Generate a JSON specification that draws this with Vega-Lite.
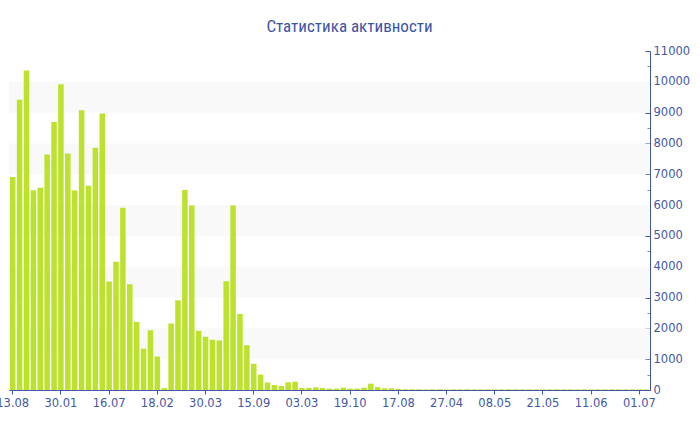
{
  "$schema": "https://vega.github.io/schema/vega-lite/v6.json",
  "width": 641,
  "height": 339,
  "autosize": {"type": "none"},
  "padding": {"left": 9, "top": 51, "right": 50, "bottom": 40},
  "background": "white",
  "title": {
    "text": "Статистика активности",
    "font": "Liberation Sans Narrow, Roboto Condensed, DejaVu Sans Condensed, Liberation Sans",
    "fontSize": 17,
    "fontWeight": "normal",
    "color": "#3c55a5",
    "anchor": "middle",
    "dx": 20,
    "offset": 9
  },
  "config": {
    "view": {"stroke": null},
    "axis": {"grid": false}
  },
  "datasets": {
    "bands": [
      {"lo": 1000, "hi": 2000},
      {"lo": 3000, "hi": 4000},
      {"lo": 5000, "hi": 6000},
      {"lo": 7000, "hi": 8000},
      {"lo": 9000, "hi": 10000}
    ],
    "bars": [
      {"i": 0, "v": 6910}, {"i": 1, "v": 9420}, {"i": 2, "v": 10370}, {"i": 3, "v": 6480},
      {"i": 4, "v": 6560}, {"i": 5, "v": 7640}, {"i": 6, "v": 8700}, {"i": 7, "v": 9920},
      {"i": 8, "v": 7670}, {"i": 9, "v": 6470}, {"i": 10, "v": 9080}, {"i": 11, "v": 6630},
      {"i": 12, "v": 7860}, {"i": 13, "v": 8970}, {"i": 14, "v": 3520}, {"i": 15, "v": 4160},
      {"i": 16, "v": 5910}, {"i": 17, "v": 3430}, {"i": 18, "v": 2210}, {"i": 19, "v": 1340},
      {"i": 20, "v": 1940}, {"i": 21, "v": 1090}, {"i": 22, "v": 60}, {"i": 23, "v": 2160},
      {"i": 24, "v": 2910}, {"i": 25, "v": 6490}, {"i": 26, "v": 5990}, {"i": 27, "v": 1920},
      {"i": 28, "v": 1730}, {"i": 29, "v": 1630}, {"i": 30, "v": 1610}, {"i": 31, "v": 3530},
      {"i": 32, "v": 5990}, {"i": 33, "v": 2470}, {"i": 34, "v": 1450}, {"i": 35, "v": 850},
      {"i": 36, "v": 500}, {"i": 37, "v": 240}, {"i": 38, "v": 160}, {"i": 39, "v": 130},
      {"i": 40, "v": 250}, {"i": 41, "v": 270}, {"i": 42, "v": 65}, {"i": 43, "v": 65},
      {"i": 44, "v": 85}, {"i": 45, "v": 65}, {"i": 46, "v": 45}, {"i": 47, "v": 45},
      {"i": 48, "v": 75}, {"i": 49, "v": 45}, {"i": 50, "v": 45}, {"i": 51, "v": 75},
      {"i": 52, "v": 205}, {"i": 53, "v": 95}, {"i": 54, "v": 55}, {"i": 55, "v": 55},
      {"i": 56, "v": 32}, {"i": 57, "v": 25}, {"i": 58, "v": 22}, {"i": 59, "v": 25},
      {"i": 60, "v": 20}, {"i": 61, "v": 22}, {"i": 62, "v": 25}, {"i": 63, "v": 20},
      {"i": 64, "v": 22}, {"i": 65, "v": 20}, {"i": 66, "v": 24}, {"i": 67, "v": 20},
      {"i": 68, "v": 22}, {"i": 69, "v": 20}, {"i": 70, "v": 21}, {"i": 71, "v": 20},
      {"i": 72, "v": 23}, {"i": 73, "v": 20}, {"i": 74, "v": 21}, {"i": 75, "v": 22},
      {"i": 76, "v": 20}, {"i": 77, "v": 21}, {"i": 78, "v": 20}, {"i": 79, "v": 22},
      {"i": 80, "v": 20}, {"i": 81, "v": 21}, {"i": 82, "v": 20}, {"i": 83, "v": 22},
      {"i": 84, "v": 20}, {"i": 85, "v": 21}, {"i": 86, "v": 20}, {"i": 87, "v": 22},
      {"i": 88, "v": 20}, {"i": 89, "v": 21}, {"i": 90, "v": 20}, {"i": 91, "v": 22},
      {"i": 92, "v": 20}
    ]
  },
  "layer": [
    {
      "data": {"name": "bands"},
      "mark": {"type": "rect", "color": "#f9f9f9"},
      "encoding": {
        "y": {
          "field": "lo",
          "type": "quantitative",
          "scale": {"domain": [0, 11000], "nice": false, "zero": true},
          "axis": {
            "orient": "right",
            "title": null,
            "values": [500, 1500, 2500, 3500, 4500, 5500, 6500, 7500, 8500, 9500, 10500],
            "labels": false,
            "domain": false,
            "ticks": true,
            "tickSize": -3,
            "tickColor": "#7f8fc0",
            "offset": 0
          }
        },
        "y2": {"field": "hi"}
      }
    },
    {
      "data": {"name": "bars"},
      "mark": {"type": "bar", "color": "#bce22e"},
      "encoding": {
        "x": {
          "field": "i",
          "type": "ordinal",
          "sort": "ascending",
          "scale": {"paddingInner": 0.2, "paddingOuter": 0.14},
          "axis": {
            "title": null,
            "values": [0, 7, 14, 21, 28, 35, 42, 49, 56, 63, 70, 77, 84, 91],
            "labelExpr": "['13.08','30.01','16.07','18.02','30.03','15.09','03.03','19.10','17.08','27.04','08.05','21.05','11.06','01.07'][datum.value / 7]",
            "labelAngle": 0,
            "labelFont": "DejaVu Sans",
            "labelFontSize": 11.5,
            "labelColor": "#4358a5",
            "labelPadding": 3,
            "labelOverlap": false,
            "labelBound": false,
            "labelFlush": false,
            "domainColor": "#4358a5",
            "tickColor": "#4358a5",
            "tickSize": 4
          }
        },
        "y": {
          "field": "v",
          "type": "quantitative",
          "scale": {"domain": [0, 11000], "nice": false, "zero": true},
          "axis": {
            "orient": "right",
            "title": null,
            "values": [0, 1000, 2000, 3000, 4000, 5000, 6000, 7000, 8000, 9000, 10000, 11000],
            "format": "d",
            "labelFont": "DejaVu Sans",
            "labelFontSize": 11.5,
            "labelColor": "#4358a5",
            "labelPadding": 8,
            "labelBound": false,
            "labelFlush": false,
            "labelOverlap": false,
            "domainColor": "#4358a5",
            "tickColor": "#4358a5",
            "tickSize": -5,
            "offset": 0
          }
        }
      }
    }
  ],
  "resolve": {"axis": {"y": "independent"}}
}
